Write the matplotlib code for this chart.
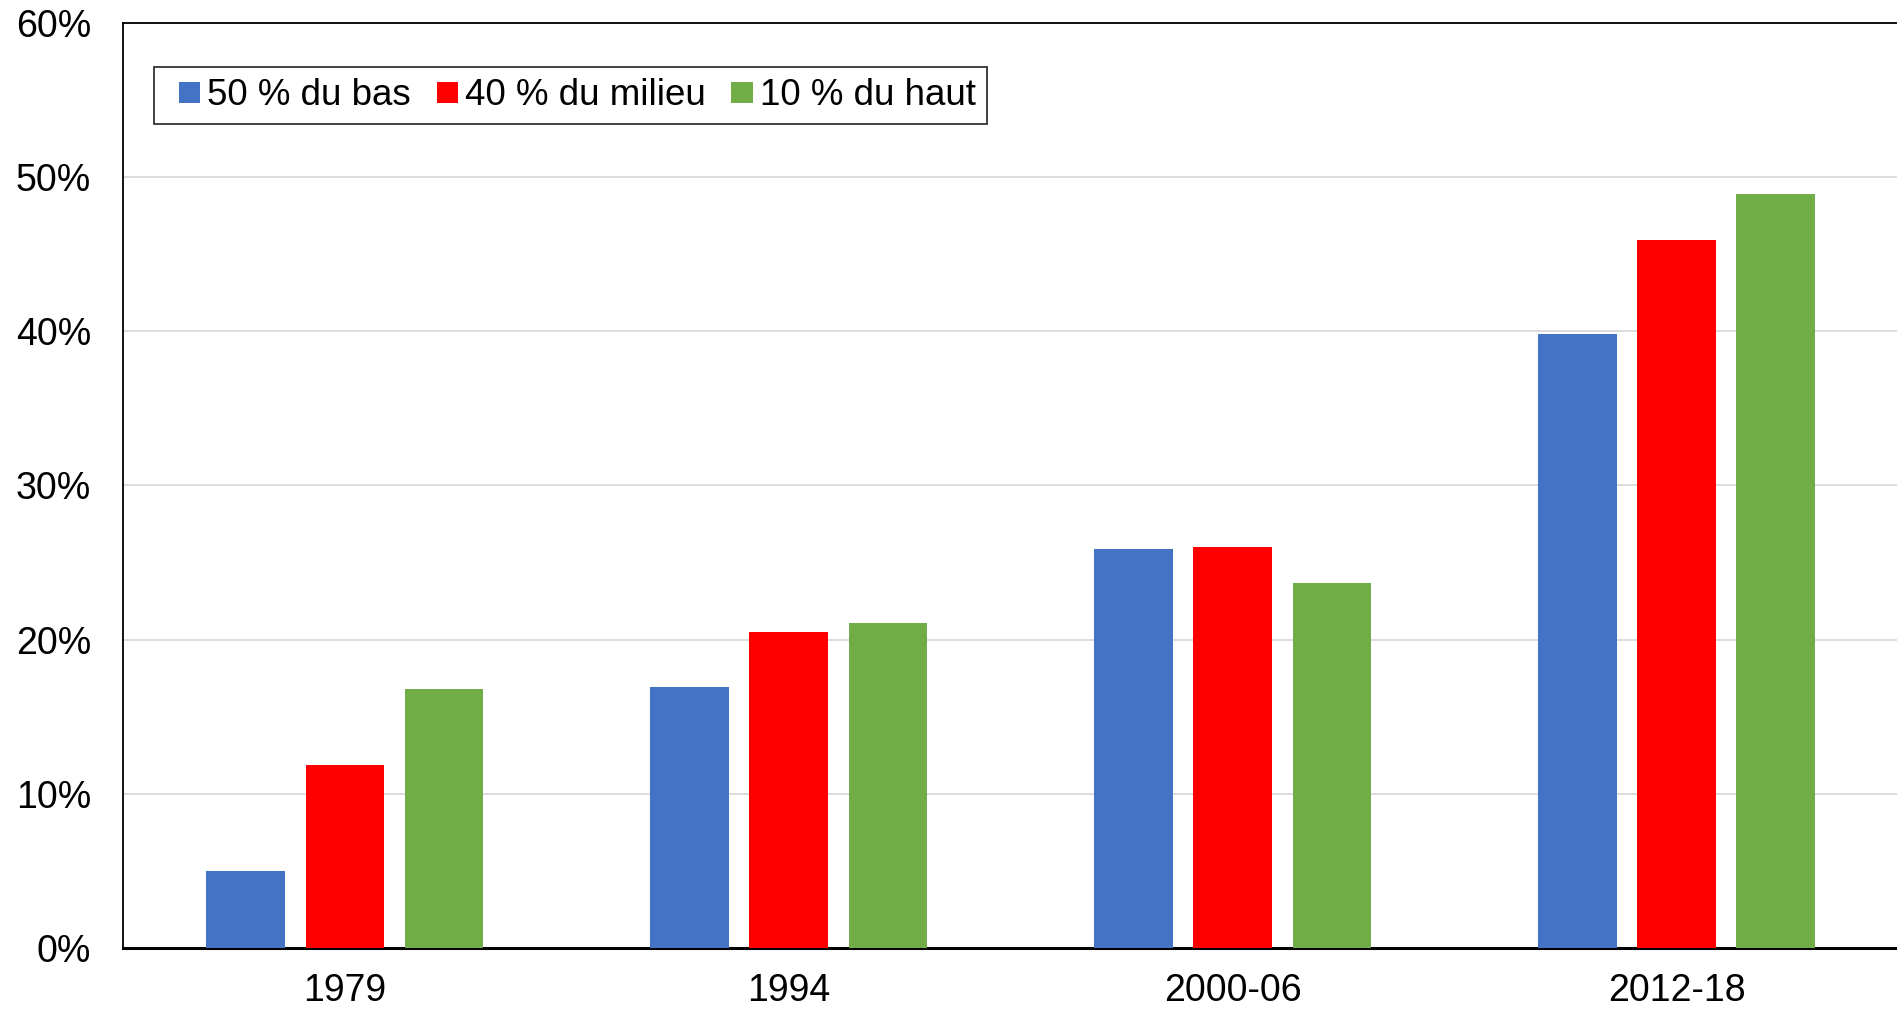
import numpy as np
import matplotlib.pyplot as plt
from matplotlib.patches import Rectangle
from matplotlib.legend_handler import HandlerPatch

plt.rcParams['font.family'] = ['Liberation Sans', 'DejaVu Sans']

# data
periods = ['1979', '1994', '2000-06', '2012-18']
bas = [5.0, 16.9, 25.9, 39.8]      # 50 % du bas
milieu = [11.9, 20.5, 26.0, 45.9]  # 40 % du milieu
haut = [16.8, 21.1, 23.7, 48.9]    # 10 % du haut
series_names = ['50 % du bas', '40 % du milieu', '10 % du haut']
colors = ['#4472c4', '#ff0000', '#70ad47']


def square_handle(legend, orig_handle, xdescent, ydescent, width, height, fontsize):
    # small square pushed to the right end of the handle box
    s = height
    return Rectangle((-xdescent + width - s, -ydescent), s, s)


fig = plt.figure(figsize=(18.97, 10.11), dpi=100)
ax = fig.add_axes([0.0648, 0.0623, 0.936, 0.915])

x = np.arange(len(periods))
w = 0.177    # bar width
step = 0.2234  # distance between bar centres
bars = []
for i, (vals, name, c) in enumerate(zip([bas, milieu, haut], series_names, colors)):
    b = ax.bar(x + (i - 1) * step, vals, width=w, color=c, label=name, zorder=3)
    bars.append(b)

ax.set_xlim(-0.5, 3.5)
ax.set_ylim(0, 60)
ax.set_yticks(np.arange(0, 61, 10))
ax.set_yticklabels([f'{v}%' for v in range(0, 61, 10)])
ax.set_xticks(x)
ax.set_xticklabels(periods)
ax.tick_params(axis='both', length=0, labelsize=27)
ax.tick_params(axis='y', pad=23)
ax.tick_params(axis='x', pad=18)
ax.grid(axis='y', color='#d9d9d9', linewidth=1.3, zorder=0)

for s in ['left', 'top']:
    ax.spines[s].set_linewidth(1.3)
    ax.spines[s].set_color('black')
ax.spines['bottom'].set_linewidth(2.2)
ax.spines['right'].set_visible(False)

hm = {Rectangle: HandlerPatch(patch_func=square_handle)}
leg = ax.legend([b[0] for b in bars], series_names,
                loc='upper left', bbox_to_anchor=(0.0175, 0.952), ncol=3,
                fontsize=26.5, frameon=True, fancybox=False, edgecolor='black',
                handlelength=0.96, handleheight=0.53, handletextpad=0.18,
                columnspacing=0.33, borderpad=0.3, borderaxespad=0,
                handler_map=hm)
leg.get_frame().set_linewidth(1.3)

fig.savefig('out.png', dpi=100)
